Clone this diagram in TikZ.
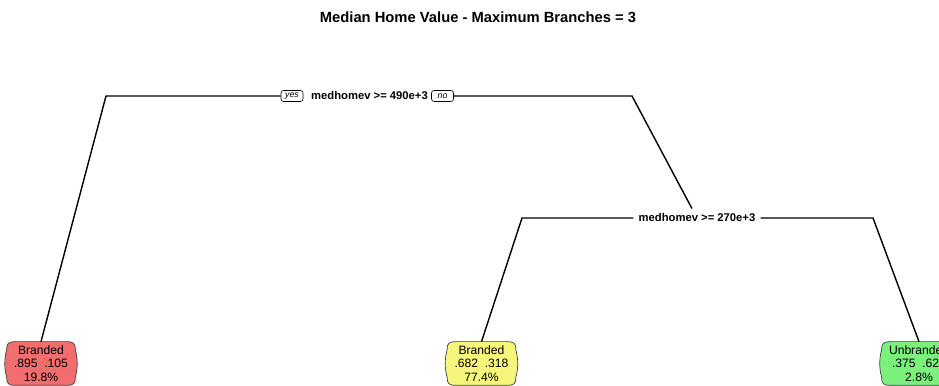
\documentclass[tikz,border=0pt]{standalone}
\usepackage{fontspec}
\setmainfont{Liberation Sans}
\usepackage{xcolor}
\usepackage{tikz}
\usetikzlibrary{calc,backgrounds}
\definecolor{redleaf}{HTML}{F26E6E}
\definecolor{yellowleaf}{HTML}{F6F67C}
\definecolor{greenleaf}{HTML}{7CF07C}

\tikzset{
  branch/.style={line width=0.8pt, black},
  splitlabel/.style={font=\fontsize{6.4}{7.5}\selectfont\bfseries, inner sep=2.8pt},
  answer/.style={draw, line width=0.35pt, rounded corners=1.5pt,
    font=\fontsize{5}{6}\selectfont\itshape, inner sep=1pt,
    minimum width=0.44cm, minimum height=0.22cm, fill=white},
  leaf/.style={align=center, font=\fontsize{6.9}{7.5}\selectfont,
    inner xsep=4pt, inner ysep=0pt, minimum height=0.86cm, minimum width=1.26cm},
}

\begin{document}
\begin{tikzpicture}
\clip (0,0) rectangle (18.78,7.72);

% ---------------------------------------------------------------- title
\node[font=\fontsize{8.4}{10}\selectfont\bfseries] (title) at (9.56,7.38)
  {Median Home Value - Maximum Branches = 3};

% ------------------------------------------------------------ first split
\node[splitlabel] (split1) at (7.39,5.80) {medhomev >= 490e+3};
\node[answer] (yes) at (5.84,5.80) {yes};
\node[answer] (no) at (8.85,5.80) {no};
\coordinate (L1) at (2.12,5.80);
\coordinate (R1) at (12.64,5.80);

% ----------------------------------------------------------- second split
\node[splitlabel] (split2) at (13.94,3.36) {medhomev >= 270e+3};
\coordinate (L2) at (10.44,3.36);
\coordinate (R2) at (17.46,3.36);

% ------------------------------------------------------------------ leaves
\node[leaf] (leaf1) at (0.82,0.45) {Branded\\.895\ \ .105\\19.8\%};
\node[leaf] (leaf2) at (9.63,0.45) {Branded\\.682\ \ .318\\77.4\%};
\node[leaf] (leaf3) at (18.38,0.45) {Unbranded\\.375\ \ .625\\2.8\%};

% barrel outline behind each leaf
\begin{scope}[on background layer]
\foreach \n/\c in {leaf1/redleaf, leaf2/yellowleaf, leaf3/greenleaf} {
  \filldraw[fill=\c, draw=black!75, line width=0.4pt]
    ($(\n.north west)+(0.2,0)$) -- ($(\n.north east)+(-0.2,0)$)
    .. controls ($(\n.north east)+(-0.03,0)$) and ($(\n.north east)+(0,-0.03)$)
    .. ($(\n.north east)+(0,-0.16)$)
    .. controls ($(\n.east)+(0.05,0.1)$) and ($(\n.east)+(0.05,-0.1)$)
    .. ($(\n.south east)+(0,0.16)$)
    .. controls ($(\n.south east)+(0,0.03)$) and ($(\n.south east)+(-0.03,0)$)
    .. ($(\n.south east)+(-0.2,0)$)
    -- ($(\n.south west)+(0.2,0)$)
    .. controls ($(\n.south west)+(0.03,0)$) and ($(\n.south west)+(0,0.03)$)
    .. ($(\n.south west)+(0,0.16)$)
    .. controls ($(\n.west)+(-0.05,-0.1)$) and ($(\n.west)+(-0.05,0.1)$)
    .. ($(\n.north west)+(0,-0.16)$)
    .. controls ($(\n.north west)+(0,-0.03)$) and ($(\n.north west)+(0.03,0)$)
    .. cycle;
}
\end{scope}

% ---------------------------------------------------------------- branches
\draw[branch] (leaf1.north) -- (L1) -- (yes);
\draw[branch] (no) -- (R1) -- (split2);
\draw[branch] (leaf2.north) -- (L2) -- (split2);
\draw[branch] (split2) -- (R2) -- (leaf3.north);

\end{tikzpicture}
\end{document}
